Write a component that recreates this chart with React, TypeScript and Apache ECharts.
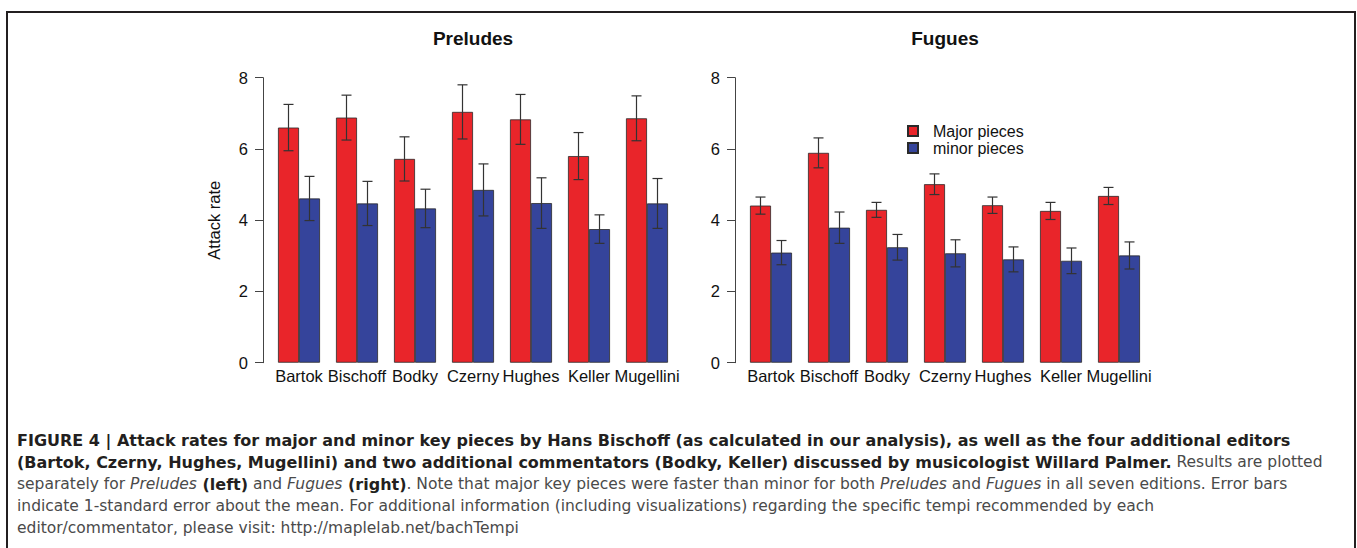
import React, { useEffect, useRef } from "react";
import * as echarts from "echarts";

const categories = ["Bartok", "Bischoff", "Bodky", "Czerny", "Hughes", "Keller", "Mugellini"];
const seriesNames = ["Major pieces", "minor pieces"];
const panelTitles = ["Preludes", "Fugues"];
const yAxisTitle = "Attack rate";

const preludesMajor = [6.6, 6.88, 5.72, 7.04, 6.83, 5.8, 6.86];
const preludesMajorSE = [0.65, 0.63, 0.62, 0.76, 0.7, 0.66, 0.63];
const preludesMinor = [4.61, 4.47, 4.33, 4.85, 4.48, 3.75, 4.47];
const preludesMinorSE = [0.62, 0.62, 0.54, 0.73, 0.71, 0.4, 0.7];
const fuguesMajor = [4.41, 5.89, 4.29, 5.01, 4.42, 4.26, 4.68];
const fuguesMajorSE = [0.24, 0.42, 0.21, 0.29, 0.23, 0.24, 0.24];
const fuguesMinor = [3.09, 3.79, 3.24, 3.07, 2.9, 2.86, 3.01];
const fuguesMinorSE = [0.34, 0.44, 0.36, 0.38, 0.35, 0.36, 0.38];

const yMin = 0;
const yMax = 8;
const yInterval = 2;

const captionLines = [
  "{b|FIGURE 4 | Attack rates for major and minor key pieces by Hans Bischoff (as calculated in our analysis), as well as the four additional editors}",
  "{b|(Bartok, Czerny, Hughes, Mugellini) and two additional commentators (Bodky, Keller) discussed by musicologist Willard Palmer.}{n| Results are plotted}",
  "{n|separately for }{i|Preludes}{b| (left)}{n| and }{i|Fugues}{b| (right)}{n|. Note that major key pieces were faster than minor for both }{i|Preludes}{n| and }{i|Fugues}{n| in all seven editions. Error bars}",
  "{n|indicate 1-standard error about the mean. For additional information (including visualizations) regarding the specific tempi recommended by each}",
  "{n|editor/commentator, please visit: http://maplelab.net/bachTempi}",
];

const FONT = "'Liberation Sans', Arial, Helvetica, sans-serif";
const CAP_FONT = "'DejaVu Sans', 'Liberation Sans', sans-serif";
const RED = "#E9252A";
const BLUE = "#35449B";
const BAR_W = 21;
const LABEL_SIZE = 16.5;

export default function App() {
  const ref = useRef<HTMLDivElement>(null);
  useEffect(() => {
    document.body.style.margin = "0";
    const chart = echarts.init(ref.current!, undefined, { renderer: "svg" });

    const errItem = (sign: number) => (params: any, api: any) => {
      const i = api.value(0);
      const m = api.value(1);
      const se = api.value(2);
      const c = api.coord([i, m]);
      const x = c[0] + (sign * BAR_W) / 2;
      const top = api.coord([i, m + se])[1];
      const bot = api.coord([i, m - se])[1];
      const style = { stroke: "#333", lineWidth: 1.2 };
      return {
        type: "group",
        children: [
          { type: "line", shape: { x1: x, y1: top, x2: x, y2: bot }, style },
          { type: "line", shape: { x1: x - 5, y1: top, x2: x + 5, y2: top }, style },
          { type: "line", shape: { x1: x - 5, y1: bot, x2: x + 5, y2: bot }, style },
        ],
      };
    };

    const grids = [
      { left: 270, right: 681, top: 77.7, bottom: 185.3 },
      { left: 742, right: 209, top: 77.7, bottom: 185.3 },
    ];

    const xAxes = grids.map((_, gi) => ({
      type: "category",
      gridIndex: gi,
      data: categories,
      axisLine: { show: false },
      axisTick: { show: false },
      axisLabel: { interval: 0, fontSize: LABEL_SIZE, color: "#111", fontFamily: FONT, margin: 5 },
    }));

    const yAxes = grids.map((_, gi) => ({
      type: "value",
      gridIndex: gi,
      min: yMin,
      max: yMax,
      interval: yInterval,
      offset: 7,
      name: gi === 0 ? yAxisTitle : "",
      nameLocation: "middle",
      nameRotate: 90,
      nameGap: 41,
      nameTextStyle: { fontSize: LABEL_SIZE, color: "#111", fontFamily: FONT },
      axisLine: { show: true, lineStyle: { color: "#444", width: 1 } },
      axisTick: { show: true, length: 8, lineStyle: { color: "#444", width: 1 } },
      axisLabel: { fontSize: LABEL_SIZE, color: "#111", fontFamily: FONT, margin: 15 },
      splitLine: { show: false },
    }));

    const panels = [
      [preludesMajor, preludesMajorSE, preludesMinor, preludesMinorSE],
      [fuguesMajor, fuguesMajorSE, fuguesMinor, fuguesMinorSE],
    ];

    const series: any[] = [];
    panels.forEach((p, gi) => {
      series.push({
        type: "bar",
        name: seriesNames[0],
        xAxisIndex: gi,
        yAxisIndex: gi,
        data: p[0],
        barWidth: BAR_W,
        barGap: "0%",
        itemStyle: { color: RED, borderColor: "#2a2a2a", borderWidth: 0.8 },
      });
      series.push({
        type: "bar",
        name: seriesNames[1],
        xAxisIndex: gi,
        yAxisIndex: gi,
        data: p[2],
        barWidth: BAR_W,
        barGap: "0%",
        itemStyle: { color: BLUE, borderColor: "#2a2a2a", borderWidth: 0.8 },
      });
      series.push({
        type: "custom",
        name: "err-major-" + gi,
        xAxisIndex: gi,
        yAxisIndex: gi,
        z: 5,
        renderItem: errItem(-1),
        encode: { x: 0, y: 1 },
        data: categories.map((_, i) => [i, p[0][i], p[1][i]]),
      });
      series.push({
        type: "custom",
        name: "err-minor-" + gi,
        xAxisIndex: gi,
        yAxisIndex: gi,
        z: 5,
        renderItem: errItem(1),
        encode: { x: 0, y: 1 },
        data: categories.map((_, i) => [i, p[2][i], p[3][i]]),
      });
    });

    const richStyles = {
      b: { fontFamily: CAP_FONT, fontSize: 16, fontWeight: "bold", fill: "#231F20" },
      n: { fontFamily: CAP_FONT, fontSize: 15.5, fontWeight: "normal", fill: "#4a4a4a" },
      i: { fontFamily: CAP_FONT, fontSize: 15.5, fontWeight: "normal", fontStyle: "italic", fill: "#4a4a4a" },
    };

    const graphics: any[] = [
      {
        type: "polyline",
        shape: { points: [[7, 548], [7, 12], [1355, 12], [1355, 548]] },
        style: { stroke: "#231F20", lineWidth: 2, fill: "none" },
      },
      ...panelTitles.map((t, gi) => ({
        type: "text",
        x: gi === 0 ? 473 : 945,
        y: 38,
        style: {
          text: t,
          fontFamily: FONT,
          fontSize: 19,
          fontWeight: "bold",
          fill: "#111",
          align: "center",
          verticalAlign: "middle",
        },
      })),
      ...captionLines.map((line, li) => ({
        type: "text",
        x: 17,
        y: 440 + li * 22.1,
        style: {
          text: line,
          rich: richStyles,
          fontFamily: CAP_FONT,
          fontSize: 16,
          fill: "#4a4a4a",
          align: "left",
          verticalAlign: "middle",
        },
      })),
    ];

    chart.setOption({
      animation: false,
      backgroundColor: "#fff",
      grid: grids,
      xAxis: xAxes,
      yAxis: yAxes,
      legend: {
        data: seriesNames,
        orient: "vertical",
        left: 907,
        top: 123,
        padding: 0,
        itemWidth: 10,
        itemHeight: 10,
        itemGap: 1,
        icon: "rect",
        textStyle: { fontSize: 16, color: "#111", fontFamily: FONT, padding: [0, 0, 0, 10] },
      },
      series,
      graphic: graphics,
    });
    return () => chart.dispose();
  }, []);
  return <div ref={ref} style={{ width: 1357, height: 548 }} />;
}
